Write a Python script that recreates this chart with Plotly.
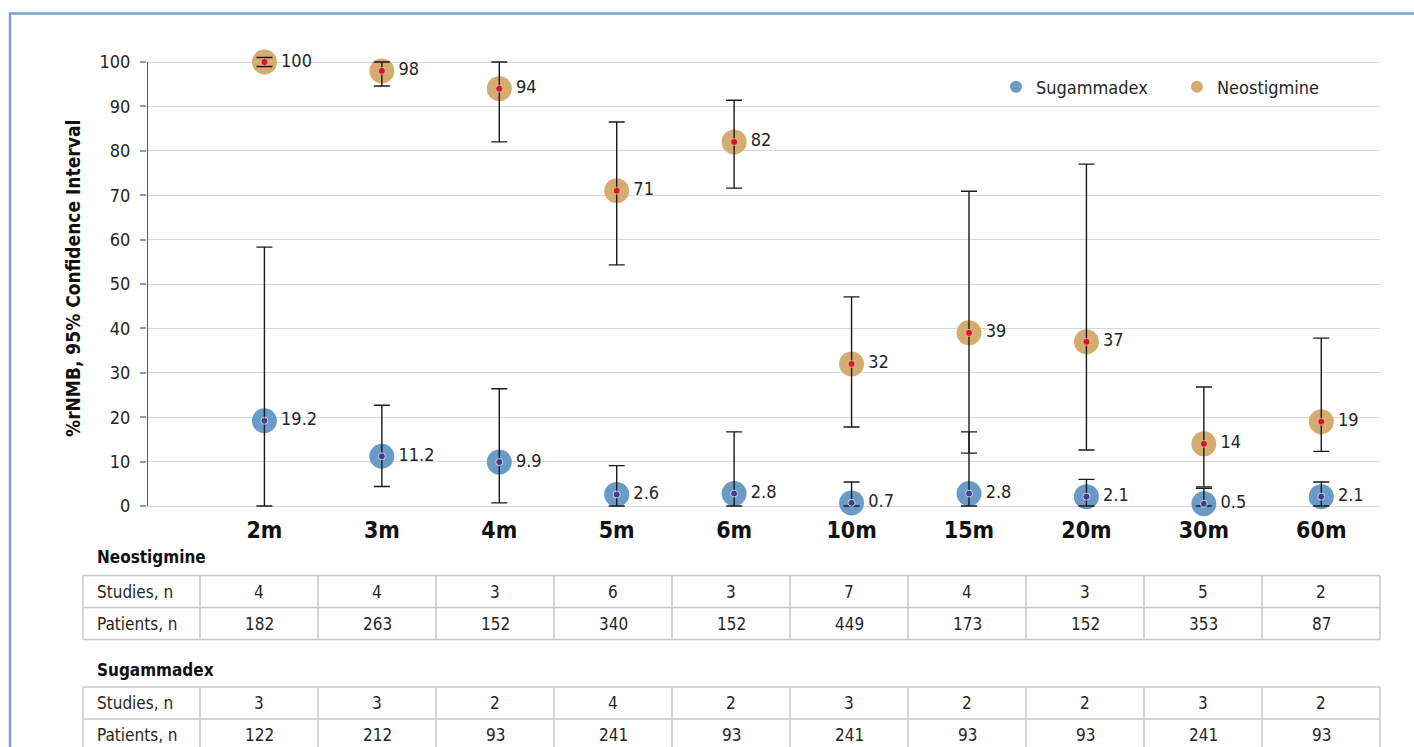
import plotly.graph_objects as go

# ---------------- data ----------------
categories = ["2m", "3m", "4m", "5m", "6m", "10m", "15m", "20m", "30m", "60m"]

neo_value = [100, 98, 94, 71, 82, 32, 39, 37, 14, 19]
neo_lower = [99.0, 94.6, 82.0, 54.3, 71.6, 17.8, 11.9, 12.6, 4.3, 12.3]
neo_upper = [101.0, 100.0, 100.0, 86.5, 91.4, 47.1, 70.9, 77.0, 26.8, 37.8]

sug_value = [19.2, 11.2, 9.9, 2.6, 2.8, 0.7, 2.8, 2.1, 0.5, 2.1]
sug_lower = [0.0, 4.4, 0.7, 0.0, 0.0, 0.0, 0.0, 0.0, 0.0, 0.0]
sug_upper = [58.3, 22.7, 26.4, 9.1, 16.7, 5.4, 16.7, 6.0, 4.0, 5.4]

neo_studies = [4, 4, 3, 6, 3, 7, 4, 3, 5, 2]
neo_patients = [182, 263, 152, 340, 152, 449, 173, 152, 353, 87]
sug_studies = [3, 3, 2, 4, 2, 3, 2, 2, 3, 2]
sug_patients = [122, 212, 93, 241, 93, 241, 93, 93, 241, 93]

row_labels = ["Studies, n", "Patients, n"]

# ---------------- layout constants ----------------
W, H = 1414, 747
L, R, T, B = 147, 34, 55, 239
PW, PH = W - L - R, H - T - B

FONT = "DejaVu Sans Condensed, Liberation Sans Narrow, sans-serif"
TAN = "#d4ac70"
BLUE = "#6a9bc6"
RED = "#d7191f"
NAVY = "#3f3f95"
GRID = "#d9d9d9"
FRAME = "#7aa3cc"
TXT = "#262626"


def px_x(p):
    return (p - L) / PW


def px_y(p):
    return (H - B - p) / PH


x = list(range(len(categories)))

fig = go.Figure()

# big circles
fig.add_trace(go.Scatter(
    x=x, y=sug_value, mode="markers+text", name="Sugammadex",
    marker=dict(size=25, color=BLUE), text=[str(v) for v in sug_value],
    textposition="middle right", textfont=dict(family=FONT, size=18, color=TXT),
    cliponaxis=False, legendrank=1))
fig.add_trace(go.Scatter(
    x=x, y=neo_value, mode="markers+text", name="Neostigmine",
    marker=dict(size=25, color=TAN), text=[str(v) for v in neo_value],
    textposition="middle right", textfont=dict(family=FONT, size=18, color=TXT),
    cliponaxis=False, legendrank=2))

# error bars on top of circles
for vals, lo, up in [(sug_value, sug_lower, sug_upper), (neo_value, neo_lower, neo_upper)]:
    fig.add_trace(go.Scatter(
        x=x, y=vals, mode="markers", showlegend=False, hoverinfo="skip",
        marker=dict(size=1, color="rgba(0,0,0,0)"),
        error_y=dict(type="data", symmetric=False,
                     array=[u - v for u, v in zip(up, vals)],
                     arrayminus=[v - l for v, l in zip(vals, lo)],
                     color="#1a1a1a", thickness=1.4, width=8),
        cliponaxis=False))

# inner dots
fig.add_trace(go.Scatter(
    x=x, y=sug_value, mode="markers", showlegend=False, hoverinfo="skip",
    marker=dict(size=7, color=NAVY, line=dict(width=1, color="rgba(255,255,255,0.7)")),
    cliponaxis=False))
fig.add_trace(go.Scatter(
    x=x, y=neo_value, mode="markers", showlegend=False, hoverinfo="skip",
    marker=dict(size=7, color=RED, line=dict(width=1, color="rgba(255,255,255,0.5)")),
    cliponaxis=False))

shapes = []
annotations = []

# y axis line from 0 to 100
shapes.append(dict(type="line", xref="x", yref="y", x0=-1, x1=-1, y0=0, y1=100,
                   line=dict(color="#000000", width=1.3), layer="above"))

# outer frame
shapes.append(dict(type="path", xref="paper", yref="paper",
                   path=f"M {px_x(10)} {px_y(800)} L {px_x(10)} {px_y(13.5)} L {px_x(1500)} {px_y(13.5)}",
                   line=dict(color=FRAME, width=2.5)))

# y title
annotations.append(dict(xref="paper", yref="paper", x=px_x(73), y=px_y(279),
                        text="<b>%rNMB, 95% Confidence Interval</b>", textangle=-90,
                        showarrow=False, font=dict(family=FONT, size=19, color="#111111"),
                        xanchor="center", yanchor="middle"))

# tables
col_edges = [83, 200] + [200 + 118 * (i + 1) for i in range(len(categories))]
grid_col = "#c8c8c8"


def add_table(title, title_y, top, row_h, rows):
    annotations.append(dict(xref="paper", yref="paper", x=px_x(95), y=px_y(title_y),
                            text=f"<b>{title}</b>", showarrow=False, xanchor="left",
                            yanchor="middle", font=dict(family=FONT, size=17, color="#111111")))
    n = len(rows)
    bottom = top + row_h * n
    for i in range(n + 1):
        yy = top + row_h * i
        shapes.append(dict(type="line", xref="paper", yref="paper",
                           x0=px_x(col_edges[0]), x1=px_x(col_edges[-1]),
                           y0=px_y(yy), y1=px_y(yy), line=dict(color=grid_col, width=1.5)))
    for e in col_edges:
        shapes.append(dict(type="line", xref="paper", yref="paper",
                           x0=px_x(e), x1=px_x(e), y0=px_y(top), y1=px_y(bottom),
                           line=dict(color=grid_col, width=1.5)))
    for r, (lab, vals) in enumerate(rows):
        cy = top + row_h * (r + 0.5)
        annotations.append(dict(xref="paper", yref="paper", x=px_x(95), y=px_y(cy),
                                text=lab, showarrow=False, xanchor="left", yanchor="middle",
                                font=dict(family=FONT, size=17, color=TXT)))
        for c, v in enumerate(vals):
            cx = (col_edges[c + 1] + col_edges[c + 2]) / 2
            annotations.append(dict(xref="paper", yref="paper", x=px_x(cx), y=px_y(cy),
                                    text=str(v), showarrow=False, xanchor="center",
                                    yanchor="middle",
                                    font=dict(family=FONT, size=17, color=TXT)))


add_table("Neostigmine", 557, 575.5, 32, [(row_labels[0], neo_studies), (row_labels[1], neo_patients)])
add_table("Sugammadex", 670, 687, 32, [(row_labels[0], sug_studies), (row_labels[1], sug_patients)])

fig.update_layout(
    width=W, height=H,
    margin=dict(l=L, r=R, t=T, b=B, autoexpand=False),
    paper_bgcolor="white", plot_bgcolor="white",
    font=dict(family=FONT, color=TXT),
    showlegend=True,
    legend=dict(orientation="h", x=px_x(996), y=px_y(87), xanchor="left", yanchor="middle",
                font=dict(family=FONT, size=18, color=TXT), bgcolor="rgba(0,0,0,0)",
                entrywidth=136, entrywidthmode="pixels", itemsizing="constant",
                traceorder="normal"),
    shapes=shapes, annotations=annotations,
    xaxis=dict(range=[-1, 9.5], tickvals=x, ticktext=[f"<b>{c}</b>" for c in categories],
               showgrid=False, zeroline=False, showline=False, ticks="",
               tickfont=dict(family=FONT, size=23, color="#111111"),
               ticklabelstandoff=6, fixedrange=True),
    yaxis=dict(range=[-0.45, 100 + (62 - T) / 4.44], tickvals=list(range(0, 101, 10)),
               showgrid=True, gridcolor=GRID, gridwidth=1.3, zeroline=False, showline=False,
               ticks="outside", ticklen=6, tickcolor=FRAME, tickwidth=1.5,
               tickfont=dict(family=FONT, size=18, color=TXT), ticklabelstandoff=6,
               fixedrange=True),
)

fig.write_html("out.html", config={"displayModeBar": False},
               post_script="document.body.style.margin='0';document.body.style.overflow='hidden';")
